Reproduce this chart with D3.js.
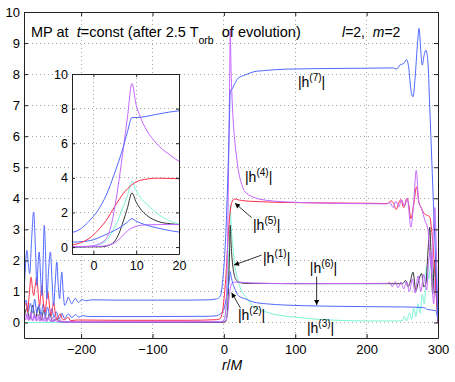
<!DOCTYPE html>
<html>
<head>
<meta charset="utf-8">
<script src="https://cdn.jsdelivr.net/npm/d3@7"></script>
<style>
  body { margin: 0; background: #fff; }
  svg { display: block; }
  text { font-family: "Liberation Sans", Arial, Helvetica, sans-serif; }
</style>
</head>
<body>
<div id="chart"></div>
<script>
// Ticks
const xTicks = [-200, -100, 0, 100, 200, 300];
const yTicks = [0, 1, 2, 3, 4, 5, 6, 7, 8, 9, 10];
const insetXTicks = [0, 10, 20];
const insetYTicks = [0, 2, 4, 6, 8, 10];

// |h^(n)| against r/M
const h1 = [[-280,0.15],[-276,0.45],[-272,0.1],[-268,0.55],[-264,0.12],[-260,0.5],[-256,0.08],[-252,0.4],[-248,0.06],[-244,0.28],[-240,0.04],[-235,0.12],[-228,0.02],[-200,0.01],[-5,0.0],[2,0.02],[4,0.15],[5,0.35],[6,0.8],[7,1.5],[8,2.3],[9,3.13],[10,2.6],[11,2.2],[12.4,1.85],[15.5,1.45],[18,1.35],[20,1.3],[30,1.26],[100,1.25],[230,1.25],[250,1.25],[255,1.35],[258,1.15],[261,1.3],[265,1.62],[269,1.03],[273,1.35],[277,1.58],[280,1.15],[283,1.25],[286,2.3],[288.5,3.07],[290.5,2.0],[292.5,0.92],[295,2.0],[297.5,0.9],[300,0.0]];

const h2 = [[-280,0.33],[-278,0.08],[-275.5,0.3],[-273,0.06],[-270.5,0.32],[-268,0.05],[-265.5,0.28],[-263,0.05],[-260.5,0.27],[-258,0.04],[-255.5,0.25],[-253,0.04],[-250.5,0.22],[-248,0.03],[-245.5,0.2],[-243,0.03],[-240.5,0.16],[-238,0.02],[-235,0.12],[-232,0.02],[-229,0.08],[-225,0.01],[-200,0.01],[-5,0.02],[2,0.05],[4,0.15],[5,0.25],[6,0.45],[7,0.7],[8,0.95],[9,1.1],[10,1.2],[12,1.28],[15,1.3],[20,1.3],[40,1.27],[100,1.25],[230,1.26],[232,1.3],[236,1.15],[240,1.32],[244,1.12],[248,1.3],[252,1.08],[256,1.32],[260,1.0],[264,1.4],[268,0.95],[272,1.5],[276,1.0],[280,1.55],[284,1.05],[287,2.0],[290,2.3],[292,1.2],[294,0.6],[296,1.4],[298,0.8],[300,0.0]];

const h3 = [[-280,0.0],[-5,0.0],[-1,0.04],[1,0.12],[3,0.37],[4,0.7],[5,1.15],[6,1.7],[7,2.35],[8,3.0],[9,3.8],[10,3.25],[11,2.85],[12.4,2.5],[15.5,1.83],[18,1.5],[20,1.33],[25,1.0],[30,0.85],[40,0.55],[60,0.33],[100,0.17],[135,0.1],[200,0.05],[245,0.05],[250,0.06],[253,0.2],[256,0.05],[260,0.3],[263,0.1],[266,0.45],[269,0.2],[272,0.6],[275,0.3],[278,0.9],[281,0.6],[284,1.8],[287,1.4],[290,1.9],[293,1.3],[296,1.7],[300,0.05]];

const h4 = [[-280,0.12],[-277,0.25],[-274,0.08],[-271,0.22],[-268,0.05],[-265,0.2],[-262,0.05],[-259,0.18],[-256,0.04],[-253,0.15],[-250,0.03],[-246,0.12],[-242,0.03],[-238,0.08],[-232,0.02],[-200,0.02],[-100,0.02],[-5,0.02],[-1,0.05],[1,0.15],[3,0.5],[4,1.1],[5,2.3],[6,3.9],[7,5.7],[8,7.6],[9,9.45],[10,8.2],[11,7.5],[12.4,6.76],[14,6.2],[15.5,5.79],[18,5.3],[20,4.95],[25,4.45],[30,4.2],[40,4.05],[50,3.97],[90,3.88],[180,3.83],[228,3.82],[233,3.86],[237,3.7],[241,3.9],[245,3.72],[249,3.95],[253,3.75],[257,4.0],[262,3.07],[266,3.9],[269.5,4.9],[273,3.9],[277,3.67],[281.5,3.3],[286,2.97],[289,2.1],[291.5,1.6],[293.5,3.0],[295.5,3.7],[297,2.9],[298.5,1.5],[300,0.1]];

const h5 = [[-280,0.5],[-277,0.62],[-275,0.33],[-273,0.8],[-270,1.46],[-268.2,1.1],[-266.5,0.87],[-264.2,1.2],[-262,1.46],[-260,0.9],[-258,0.55],[-256.5,0.9],[-255,1.19],[-252.7,0.6],[-250.5,0.33],[-248.5,0.7],[-246.5,0.98],[-244.2,0.5],[-242,0.22],[-240.2,0.45],[-238.5,0.65],[-236.2,0.3],[-234,0.1],[-231.5,0.2],[-229,0.28],[-226.5,0.12],[-224,0.08],[-221,0.12],[-218,0.17],[-215,0.06],[-205,0.08],[-150,0.07],[-50,0.07],[-10,0.09],[-5,0.13],[-3,0.25],[-1,0.5],[1,0.95],[3,1.55],[5,2.35],[7,3.1],[9,3.6],[11,3.86],[15,3.98],[20,3.95],[40,3.9],[100,3.86],[200,3.84],[230,3.83],[234,3.92],[237.5,3.85],[241.5,3.64],[245,3.85],[248,3.96],[252,3.7],[256.5,4.0],[259,3.8],[262,3.35],[266,3.8],[270,4.37],[273,3.9],[277,3.67],[281,3.5],[285,3.45],[288.5,3.4],[291,3.0],[293,2.5],[296,1.5],[300,0.0]];

const h6 = [[-280,0.5],[-277,0.72],[-274,0.35],[-271,0.62],[-268,0.3],[-265,0.75],[-262,0.3],[-259,0.58],[-256,0.25],[-253,0.6],[-250,0.2],[-247,0.5],[-244,0.2],[-241,0.45],[-238,0.15],[-235,0.35],[-231,0.1],[-227,0.3],[-223,0.12],[-218,0.28],[-213,0.16],[-208,0.25],[-203,0.17],[-198,0.22],[-190,0.19],[-100,0.19],[-20,0.2],[-10,0.22],[-5,0.28],[-2,0.33],[0,0.42],[2,0.62],[4,0.85],[6,1.1],[8,1.45],[9,1.64],[10,1.5],[12,1.3],[15,1.1],[18,0.95],[20,0.87],[25,0.8],[30,0.76],[41,0.66],[60,0.6],[87,0.56],[134,0.53],[200,0.51],[250,0.5],[280,0.48],[285,0.42],[297,0.38],[300,0.0]];

const h7 = [[-280,0.9],[-278,1.8],[-276,2.32],[-274,1.9],[-272,1.57],[-269.5,2.6],[-266.5,3.56],[-264,2.4],[-262,1.19],[-260.5,1.8],[-258.7,2.27],[-256.8,1.5],[-255,0.87],[-253.2,2.0],[-251.6,3.13],[-249.8,2.2],[-248,0.76],[-245.5,1.7],[-243,2.27],[-240.8,1.4],[-238.5,0.55],[-236.2,1.3],[-234,1.95],[-232,1.2],[-230,0.76],[-228.5,1.3],[-227,1.62],[-225.2,1.0],[-223,0.55],[-220.5,0.65],[-218,0.82],[-215.5,0.7],[-213,0.6],[-210.5,0.7],[-208,0.78],[-205.7,0.7],[-203.5,0.64],[-201,0.7],[-199,0.74],[-196.5,0.72],[-194,0.7],[-185,0.73],[-150,0.72],[-100,0.72],[-50,0.72],[-20,0.73],[-10,0.76],[-5,0.85],[-3,1.05],[-1,1.5],[1,2.1],[3,3.0],[5,4.3],[7,5.8],[8,6.7],[9,7.48],[11,7.5],[15,7.68],[20,7.87],[30,7.97],[41,8.07],[60,8.12],[88,8.16],[150,8.18],[200,8.19],[237,8.2],[242,8.16],[247,8.3],[252,8.34],[256,8.47],[259,8.2],[262,7.5],[265,7.27],[268,7.9],[271,8.9],[273.5,9.47],[276,8.7],[278,8.29],[280.5,8.6],[283,8.77],[286,8.35],[288,7.2],[290,6.0],[292,4.8],[294,3.6],[296,2.4],[298,1.2],[300,0.05]];

// Curve labels (data coords of the text start) and arrows (from, to)
const labelPos = [
  { n: 7, r: 103.7, y: 7.6 },
  { n: 4, r: 29.6, y: 4.53 },
  { n: 5, r: 40.8, y: 2.98 },
  { n: 1, r: 54.8, y: 1.92 },
  { n: 2, r: 19.7, y: 0.08 },
  { n: 6, r: 120.5, y: 1.59 },
  { n: 3, r: 116.3, y: -0.34 }
];
const arrowPos = [
  { r0: 38.9, y0: 3.38, r1: 15.6, y1: 3.84 },
  { r0: 52.8, y0: 2.17, r1: 14.2, y1: 1.85 },
  { r0: 23.4, y0: 0.46, r1: 10.8, y1: 0.96 },
  { r0: 130, y0: 1.48, r1: 130, y1: 0.56 }
];

const blue = "#5068ff", violet = "#c466ff", red = "#ff2d4b",
  cyan = "#7af5d6", dark = "#333333";

// Draw order matters: later ones sit on top
const series = [
  { data: h3, color: cyan },
  { data: h1, color: dark },
  { data: h2, color: violet },
  { data: h6, color: blue },
  { data: h5, color: red },
  { data: h4, color: violet },
  { data: h7, color: blue }
];

const width = 455, height = 382;
const plot = { left: 24, right: 438, top: 12, bottom: 338 };
const ins = { left: 72, right: 179, top: 74, bottom: 254 };

const svg = d3.select("#chart").append("svg")
  .attr("width", width).attr("height", height);

const defs = svg.append("defs");
defs.append("clipPath").attr("id", "clip_main")
  .append("rect")
  .attr("x", plot.left).attr("y", plot.top)
  .attr("width", plot.right - plot.left).attr("height", plot.bottom - plot.top);
defs.append("clipPath").attr("id", "clip_inset")
  .append("rect")
  .attr("x", ins.left).attr("y", ins.top)
  .attr("width", ins.right - ins.left).attr("height", ins.bottom - ins.top);
defs.append("marker")
  .attr("id", "arrowhead")
  .attr("viewBox", "0 0 10 10")
  .attr("refX", 10).attr("refY", 5)
  .attr("markerWidth", 7).attr("markerHeight", 5)
  .attr("markerUnits", "userSpaceOnUse")
  .attr("orient", "auto")
  .append("path").attr("d", "M0,0 L10,5 L0,10 Z").attr("fill", "#000");

// Scales
const x = d3.scaleLinear().domain([-280, 300]).range([plot.left, plot.right]);
const y = d3.scaleLinear().domain([-0.5, 10]).range([plot.bottom, plot.top]);
const xi = d3.scaleLinear().domain([-5, 20]).range([ins.left, ins.right]);
const yi = d3.scaleLinear().domain([-0.4, 10]).range([ins.bottom, ins.top]);

// Dotted grid
function grid(g, xs, ys, xv, yv, box) {
  g.selectAll("line.gx").data(xv).enter().append("line")
    .attr("x1", d => xs(d)).attr("x2", d => xs(d))
    .attr("y1", box.top).attr("y2", box.bottom);
  g.selectAll("line.gy").data(yv).enter().append("line")
    .attr("x1", box.left).attr("x2", box.right)
    .attr("y1", d => ys(d)).attr("y2", d => ys(d));
  g.selectAll("line")
    .attr("stroke", "#a8a8a8")
    .attr("stroke-width", 1)
    .attr("stroke-dasharray", "1,3")
    .attr("shape-rendering", "crispEdges");
}

// Curves
function curves(g, xs, ys, clipId) {
  const line = d3.line()
    .x(d => xs(d[0]))
    .y(d => ys(d[1]))
    .curve(d3.curveMonotoneX);
  g.attr("clip-path", "url(#" + clipId + ")")
    .selectAll("path").data(series).enter().append("path")
    .attr("d", d => line(d.data))
    .attr("fill", "none")
    .attr("stroke", d => d.color)
    .attr("stroke-width", 1);
}

// Frame with inward ticks on all four sides
function frame(g, xs, ys, xv, yv, box, fontSize, tickLen, xPad, yPad) {
  const styleAxis = sel => {
    sel.select(".domain").attr("stroke", "#222");
    sel.selectAll(".tick line").attr("stroke", "#222");
    sel.selectAll("text")
      .attr("font-size", fontSize)
      .attr("fill", "#000");
  };
  g.append("g").attr("transform", `translate(0,${box.bottom})`)
    .call(d3.axisBottom(xs).tickValues(xv).tickSizeInner(-tickLen).tickSizeOuter(0).tickPadding(xPad))
    .call(styleAxis);
  g.append("g").attr("transform", `translate(0,${box.top})`)
    .call(d3.axisTop(xs).tickValues(xv).tickSizeInner(-tickLen).tickSizeOuter(0).tickFormat(""))
    .call(styleAxis);
  g.append("g").attr("transform", `translate(${box.left},0)`)
    .call(d3.axisLeft(ys).tickValues(yv).tickSizeInner(-tickLen).tickSizeOuter(0).tickPadding(yPad))
    .call(styleAxis);
  g.append("g").attr("transform", `translate(${box.right},0)`)
    .call(d3.axisRight(ys).tickValues(yv).tickSizeInner(-tickLen).tickSizeOuter(0).tickFormat(""))
    .call(styleAxis);
  g.selectAll("g").attr("font-family", null);
}

// Main axes
const main = svg.append("g").attr("class", "main");
main.append("rect")
  .attr("x", plot.left).attr("y", plot.top)
  .attr("width", plot.right - plot.left).attr("height", plot.bottom - plot.top)
  .attr("fill", "#fff");
grid(main.append("g"), x, y, xTicks, yTicks, plot);
curves(main.append("g"), x, y, "clip_main");
frame(main.append("g"), x, y, xTicks, yTicks, plot, 13, 4, 7, 4);

// Curve labels
const labels = main.append("g").attr("class", "labels").attr("font-size", 14);
const lab = labels.selectAll("text").data(labelPos).enter().append("text")
  .attr("x", d => x(d.r)).attr("y", d => y(d.y));
lab.append("tspan").text("|h");
lab.append("tspan").attr("font-size", 10).attr("dy", -6).text(d => "(" + d.n + ")");
lab.append("tspan").attr("dy", 6).text("|");

labels.selectAll("line").data(arrowPos).enter().append("line")
  .attr("x1", d => x(d.r0)).attr("y1", d => y(d.y0))
  .attr("x2", d => x(d.r1)).attr("y2", d => y(d.y1))
  .attr("stroke", "#000").attr("stroke-width", 0.8)
  .attr("marker-end", "url(#arrowhead)");

// Title and mode
const title = main.append("text")
  .attr("x", 31).attr("y", 37).attr("font-size", 14.5)
  .attr("xml:space", "preserve").style("white-space", "pre");
title.append("tspan").text("MP at\u00a0\u00a0");
title.append("tspan").attr("font-style", "italic").text("t");
title.append("tspan").text("=const (after 2.5 T");
title.append("tspan").attr("font-size", 10.5).attr("dy", 7).text("orb");
title.append("tspan").attr("dy", -7).text("\u00a0\u00a0of evolution)");

const mode = main.append("text")
  .attr("x", 342).attr("y", 37).attr("font-size", 14);
mode.append("tspan").attr("font-style", "italic").text("l");
mode.append("tspan").text("=2,\u00a0\u00a0");
mode.append("tspan").attr("font-style", "italic").text("m");
mode.append("tspan").text("=2");

// x label
const xl = main.append("text")
  .attr("x", 222).attr("y", 370).attr("font-size", 14);
xl.append("tspan").attr("font-style", "italic").text("r");
xl.append("tspan").text("/");
xl.append("tspan").attr("font-style", "italic").text("M");

// Inset: the same curves near the light ring
const inset = svg.append("g").attr("class", "inset");
inset.append("rect")
  .attr("x", ins.left).attr("y", ins.top)
  .attr("width", ins.right - ins.left).attr("height", ins.bottom - ins.top)
  .attr("fill", "#fff");
grid(inset.append("g"), xi, yi, insetXTicks.slice(0, 2), insetYTicks.slice(0, 5), ins);
curves(inset.append("g"), xi, yi, "clip_inset");
frame(inset.append("g"), xi, yi, insetXTicks, insetYTicks, ins, 12.5, 3, 7, 4);
</script>
</body>
</html>
